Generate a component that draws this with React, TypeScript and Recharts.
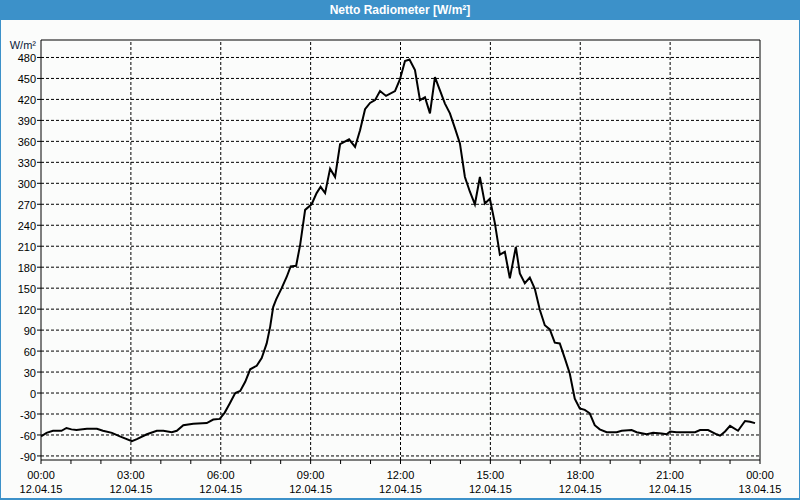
import { LineChart, Line, XAxis, YAxis, ReferenceLine } from 'recharts';

// minute of day (12.04.15) and net radiation in W/m²
const minuteOfDay = [
  0, 11, 24, 41, 51, 61, 71, 92, 112, 124,
  142, 158, 182, 192, 212, 232, 245, 262, 272, 285,
  305, 332, 345, 358, 368, 378, 389, 399, 409, 419,
  432, 442, 452, 459, 465, 471, 482, 492, 500, 511,
  519, 529, 542, 552, 560, 569, 579, 589, 599, 617,
  629, 639, 649, 659, 669, 679, 691, 709, 719, 729,
  738, 749, 759, 769, 779, 789, 799, 809, 819, 829,
  839, 849, 859, 869, 879, 889, 899, 909, 919, 929,
  939, 951, 959, 969, 979, 989, 999, 1009, 1019, 1029,
  1039, 1049, 1059, 1069, 1079, 1089, 1099, 1109, 1119, 1133,
  1153, 1163, 1183, 1193, 1213, 1226, 1243, 1253, 1260, 1273,
  1310, 1320, 1336, 1353, 1360, 1370, 1380, 1396, 1410, 1420, 1430,
];

const netRadiation = [
  -62, -57, -54, -54, -50, -52, -53, -51, -51, -54,
  -57, -62, -69, -66, -59, -54, -54, -56, -54, -46,
  -44, -43, -38, -37, -28, -15, 0, 3, 16, 34,
  39, 50, 71, 95, 123, 134, 150, 166, 181, 182,
  212, 262, 270, 286, 295, 286, 321, 309, 356, 363,
  352, 376, 406, 415, 419, 432, 425, 432, 449, 475,
  477, 462, 419, 423, 400, 452, 433, 414, 400, 379,
  357, 309, 288, 270, 309, 271, 278, 243, 198, 202,
  164, 209, 171, 157, 165, 149, 119, 97, 91, 72,
  71, 50, 28, -8, -22, -24, -29, -46, -52, -56,
  -56, -54, -53, -56, -59, -57, -58, -59, -55, -56,
  -56, -53, -53, -59, -61, -55, -47, -54, -40, -41, -43,
];

const yTicks = [-90, -60, -30, 0, 30, 60, 90, 120, 150, 180, 210, 240, 270, 300, 330, 360, 390, 420, 450, 480];
const hourTicks = [0, 60, 120, 180, 240, 300, 360, 420, 480, 540, 600, 660, 720, 780, 840, 900, 960, 1020, 1080, 1140, 1200, 1260, 1320, 1380, 1440];
const gridMinutes = [180, 360, 540, 720, 900, 1080, 1260];
const timeLabels = ['00:00', '03:00', '06:00', '09:00', '12:00', '15:00', '18:00', '21:00', '00:00'];
const dateLabels = ['12.04.15', '12.04.15', '12.04.15', '12.04.15', '12.04.15', '12.04.15', '12.04.15', '12.04.15', '13.04.15'];

const data = minuteOfDay.map((m, i) => ({ m, v: netRadiation[i] }));

const Y_MIN = -95.8;
const Y_MAX = 505;
const FONT = '"Liberation Sans", Arial, sans-serif';

// eslint-disable-next-line @typescript-eslint/no-explicit-any
const TimeTick = (props: any) => {
  const { x, y, payload } = props;
  const m = payload.value as number;
  if (m % 180 !== 0) return <g />;
  const i = m / 180;
  return (
    <g>
      <text x={x} y={y + 13} textAnchor="middle" fill="#000" fontSize={11} fontFamily={FONT}>{timeLabels[i]}</text>
      <text x={x} y={y + 27} textAnchor="middle" fill="#000" fontSize={11} fontFamily={FONT}>{dateLabels[i]}</text>
    </g>
  );
};

export default function App() {
  return (
    <div style={{ position: 'fixed', left: 0, top: 0, width: 800, height: 500, background: '#fbfcfb', boxSizing: 'border-box', borderLeft: '1px solid #3c91c9', borderRight: '1px solid #3c91c9', borderBottom: '2px solid #3c91c9', fontFamily: FONT }}>
      <div style={{ position: 'absolute', left: -1, top: 0, width: 800, height: 20, background: '#3c91c9', color: '#fff', fontWeight: 'bold', fontSize: 12, lineHeight: '21px', textAlign: 'center' }}>
        Netto Radiometer [W/m²]
      </div>
      <div style={{ position: 'absolute', left: 0, top: 39, width: 35, textAlign: 'right', fontSize: 11, color: '#0a1a3a' }}>W/m²</div>
      <div style={{ position: 'absolute', left: -1, top: 0 }}>
        <LineChart width={800} height={500} data={data} margin={{ top: 40, right: 40, bottom: 0, left: 0 }}>
          <XAxis dataKey="m" type="number" domain={[0, 1440]} ticks={hourTicks} interval={0} height={40}
            stroke="#000" tickSize={4} tickMargin={2} tick={<TimeTick />} allowDataOverflow />
          <YAxis type="number" domain={[Y_MIN, Y_MAX]} ticks={yTicks} interval={0} width={41} allowDataOverflow
            stroke="#000" tickSize={4} tickMargin={1} tick={{ fill: '#000', fontSize: 11, fontFamily: FONT, dy: 1 }} />
          {yTicks.map(t => (
            <ReferenceLine key={'h' + t} y={t} stroke="#000" strokeDasharray="3 2" />
          ))}
          {gridMinutes.map(t => (
            <ReferenceLine key={'v' + t} x={t} stroke="#000" strokeDasharray="3 2" />
          ))}
          <ReferenceLine y={Y_MAX} stroke="#000" />
          <ReferenceLine x={1440} stroke="#000" />
          <Line type="linear" dataKey="v" stroke="#000" strokeWidth={2} dot={false} isAnimationActive={false} />
        </LineChart>
      </div>
    </div>
  );
}
